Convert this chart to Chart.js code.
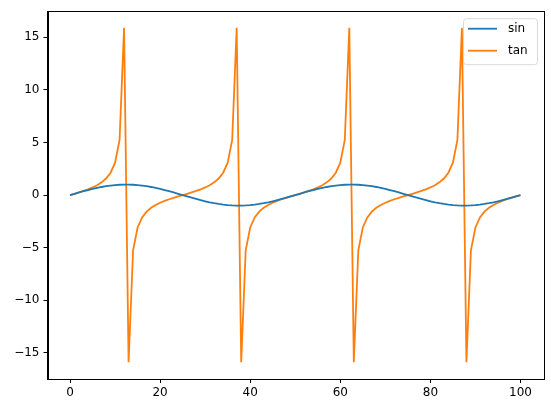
<!DOCTYPE html>
<html>
<head>
<meta charset="utf-8">
<script src="https://cdn.jsdelivr.net/npm/chart.js@4"></script>
<style>
  html, body { margin: 0; padding: 0; background: #fff; }
  #wrap { width: 551px; height: 411px; }
</style>
</head>
<body>
<div id="wrap"><canvas id="grafico"></canvas></div>
<script>
// Valores (indice 0..100)
const sinValues = [
  0, 0.125, 0.249, 0.368, 0.482, 0.588, 0.685, 0.771, 0.844, 0.905, 0.951, 0.982, 0.998,
  0.998, 0.982, 0.951, 0.905, 0.844, 0.771, 0.685, 0.588, 0.482, 0.368, 0.249, 0.125,
  0, -0.125, -0.249, -0.368, -0.482, -0.588, -0.685, -0.771, -0.844, -0.905, -0.951, -0.982, -0.998,
  -0.998, -0.982, -0.951, -0.905, -0.844, -0.771, -0.685, -0.588, -0.482, -0.368, -0.249, -0.125,
  0, 0.125, 0.249, 0.368, 0.482, 0.588, 0.685, 0.771, 0.844, 0.905, 0.951, 0.982, 0.998,
  0.998, 0.982, 0.951, 0.905, 0.844, 0.771, 0.685, 0.588, 0.482, 0.368, 0.249, 0.125,
  0, -0.125, -0.249, -0.368, -0.482, -0.588, -0.685, -0.771, -0.844, -0.905, -0.951, -0.982, -0.998,
  -0.998, -0.982, -0.951, -0.905, -0.844, -0.771, -0.685, -0.588, -0.482, -0.368, -0.249, -0.125,
  0
];

const tanValues = [
  0, 0.126, 0.257, 0.396, 0.550, 0.727, 0.939, 1.209, 1.576, 2.125, 3.078, 5.242, 15.895,
  -15.895, -5.242, -3.078, -2.125, -1.576, -1.209, -0.939, -0.727, -0.550, -0.396, -0.257, -0.126,
  0, 0.126, 0.257, 0.396, 0.550, 0.727, 0.939, 1.209, 1.576, 2.125, 3.078, 5.242, 15.895,
  -15.895, -5.242, -3.078, -2.125, -1.576, -1.209, -0.939, -0.727, -0.550, -0.396, -0.257, -0.126,
  0, 0.126, 0.257, 0.396, 0.550, 0.727, 0.939, 1.209, 1.576, 2.125, 3.078, 5.242, 15.895,
  -15.895, -5.242, -3.078, -2.125, -1.576, -1.209, -0.939, -0.727, -0.550, -0.396, -0.257, -0.126,
  0, 0.126, 0.257, 0.396, 0.550, 0.727, 0.939, 1.209, 1.576, 2.125, 3.078, 5.242, 15.895,
  -15.895, -5.242, -3.078, -2.125, -1.576, -1.209, -0.939, -0.727, -0.550, -0.396, -0.257, -0.126,
  0
];

const xTicks = [0, 20, 40, 60, 80, 100];
const yTicks = [-15, -10, -5, 0, 5, 10, 15];
const seriesNames = ['sin', 'tan'];
const seriesColors = ['#1f77b4', '#ff7f0e'];

const FONT = 'DejaVu Sans';
const toPoints = (arr) => arr.map((y, i) => ({ x: i, y: y }));
const fmt = (v) => (v < 0 ? '\u2212' + Math.abs(v) : String(v));

// Marco completo y leyenda estilo matplotlib
const marcoYLeyenda = {
  id: 'marcoYLeyenda',
  afterDraw(chart) {
    const { ctx, chartArea: a } = chart;
    ctx.save();
    ctx.strokeStyle = '#000';
    ctx.lineWidth = 1;
    ctx.strokeRect(Math.round(a.left) + 0.5, Math.round(a.top) + 0.5,
      Math.round(a.right - a.left), Math.round(a.bottom - a.top));

    // leyenda
    const w = 74, h = 46;
    const x0 = a.right - 6 - w, y0 = a.top + 7;
    ctx.beginPath();
    if (ctx.roundRect) ctx.roundRect(x0 + 0.5, y0 + 0.5, w, h, 3);
    else ctx.rect(x0 + 0.5, y0 + 0.5, w, h);
    ctx.fillStyle = 'rgba(255,255,255,0.8)';
    ctx.fill();
    ctx.strokeStyle = '#d9d9d9';
    ctx.stroke();

    ctx.font = '12px "' + FONT + '"';
    ctx.textBaseline = 'middle';
    ctx.textAlign = 'left';
    seriesNames.forEach((name, i) => {
      const yy = y0 + 10.5 + i * 22;
      ctx.strokeStyle = seriesColors[i];
      ctx.lineWidth = 1.8;
      ctx.beginPath();
      ctx.moveTo(x0 + 5, yy);
      ctx.lineTo(x0 + 34, yy);
      ctx.stroke();
      ctx.fillStyle = '#000';
      ctx.fillText(name, x0 + 45, yy);
    });
    ctx.restore();
  }
};

new Chart(document.querySelector('#grafico'), {
  type: 'line',
  data: {
    datasets: seriesNames.map((name, i) => ({
      label: name,
      data: toPoints(i === 0 ? sinValues : tanValues),
      borderColor: seriesColors[i],
      borderWidth: 1.8,
      pointRadius: 0,
      fill: false,
      tension: 0
    }))
  },
  options: {
    responsive: true,
    maintainAspectRatio: false,
    animation: false,
    devicePixelRatio: 1,
    layout: { padding: { top: 9, right: 8, left: 0, bottom: 0 } },
    plugins: { legend: { display: false }, tooltip: { enabled: false } },
    scales: {
      x: {
        type: 'linear',
        min: -5,
        max: 105,
        afterBuildTicks: (axis) => { axis.ticks = xTicks.map(v => ({ value: v })); },
        afterFit: (axis) => { axis.height = 32; },
        grid: { drawOnChartArea: false, drawTicks: true, tickLength: 4, color: '#000' },
        border: { display: true, color: '#000' },
        ticks: { color: '#000', font: { family: FONT, size: 12 }, padding: 3, maxRotation: 0, callback: (v) => fmt(v) }
      },
      y: {
        type: 'linear',
        min: -17.48,
        max: 17.48,
        afterBuildTicks: (axis) => { axis.ticks = yTicks.map(v => ({ value: v })); },
        afterFit: (axis) => { axis.width = 47.5; },
        grid: { drawOnChartArea: false, drawTicks: true, tickLength: 4, color: '#000' },
        border: { display: true, color: '#000' },
        ticks: { color: '#000', font: { family: FONT, size: 12 }, padding: 4, callback: (v) => fmt(v) }
      }
    }
  },
  plugins: [marcoYLeyenda]
});
</script>
</body>
</html>
